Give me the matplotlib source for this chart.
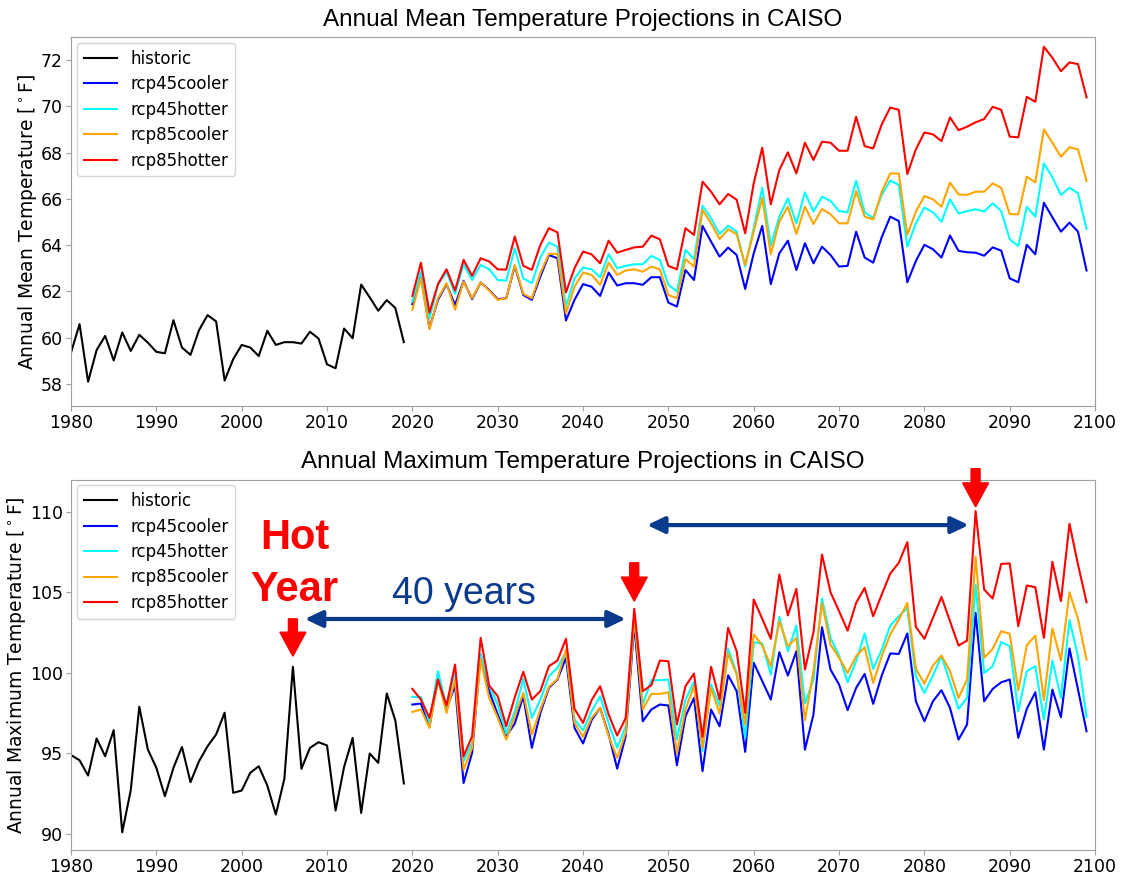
import matplotlib
matplotlib.use("Agg")
import matplotlib.pyplot as plt
import numpy as np

# ---------------- data ----------------
hist_years = list(range(1980, 2020))
proj_years = list(range(2020, 2100))

mean_historic = [59.35, 60.58, 58.09, 59.46, 60.07, 59.01, 60.22, 59.42, 60.12, 59.78,
                 59.38, 59.32, 60.75, 59.57, 59.25, 60.32, 60.97, 60.70, 58.14, 59.06,
                 59.68, 59.57, 59.20, 60.29, 59.68, 59.80, 59.80, 59.74, 60.25, 59.96,
                 58.84, 58.67, 60.39, 59.97, 62.29, 61.74, 61.16, 61.62, 61.28, 59.80]

mean_rcp45cooler = [61.44, 62.71, 60.40, 61.63, 62.31, 61.41, 62.45, 61.66, 62.38, 62.06,
                    61.66, 61.70, 63.10, 61.84, 61.63, 62.64, 63.57, 63.43, 60.74, 61.63,
                    62.31, 62.20, 61.80, 62.81, 62.25, 62.35, 62.35, 62.28, 62.61, 62.61,
                    61.51, 61.34, 62.92, 62.49, 64.83, 64.15,
                    63.50, 63.89, 63.57, 62.10, 63.64, 64.83, 62.31, 63.64, 64.19, 62.92,
                    64.08, 63.21, 63.93, 63.57, 63.07, 63.10, 64.58, 63.46, 63.24, 64.34,
                    65.23, 65.04, 62.39, 63.31, 64.01, 63.82, 63.46, 64.41, 63.75, 63.69,
                    63.67, 63.54, 63.90, 63.76, 62.56, 62.39, 64.01, 63.60, 65.83, 65.20,
                    64.58, 64.97, 64.58, 62.90]

mean_rcp45hotter = [61.56, 62.85, 60.84, 62.28, 62.85, 61.89, 63.17, 62.49, 63.14, 62.95,
                    62.49, 62.46, 63.86, 62.56, 62.35, 63.47, 64.11, 63.93, 61.34, 62.56,
                    63.03, 62.95, 62.61, 63.60, 63.00, 63.10, 63.17, 63.17, 63.53, 63.36,
                    62.28, 61.99, 63.79, 63.39, 65.70, 65.16,
                    64.48, 64.84, 64.58, 63.07, 64.73, 66.48, 63.98, 65.23, 66.02, 64.94,
                    66.28, 65.45, 66.09, 65.91, 65.47, 65.42, 66.79, 65.42, 65.16, 66.17,
                    66.79, 66.60, 63.93, 64.94, 65.62, 65.42, 65.01, 65.98, 65.37, 65.47,
                    65.55, 65.45, 65.81, 65.47, 64.25, 63.96, 65.66, 65.23, 67.53, 66.93,
                    66.17, 66.48, 66.24, 64.70]

mean_rcp85cooler = [61.20, 62.56, 60.36, 61.70, 62.35, 61.20, 62.42, 61.70, 62.38, 62.03,
                    61.63, 61.70, 63.14, 61.89, 61.70, 62.78, 63.62, 63.62, 61.05, 62.20,
                    62.81, 62.71, 62.28, 63.24, 62.71, 62.90, 62.95, 62.85, 63.07, 62.95,
                    61.84, 61.70, 63.39, 63.07, 65.52, 64.94,
                    64.26, 64.68, 64.47, 63.14, 64.58, 66.05, 63.60, 65.01, 65.66, 64.48,
                    65.66, 64.91, 65.56, 65.33, 64.94, 64.94, 66.34, 65.23, 65.11, 66.31,
                    67.10, 67.09, 64.44, 65.45, 66.12, 65.98, 65.66, 66.70, 66.19, 66.17,
                    66.31, 66.31, 66.67, 66.48, 65.34, 65.33, 66.96, 66.71, 69.00, 68.43,
                    67.82, 68.23, 68.14, 66.77]

mean_rcp85hotter = [61.80, 63.24, 61.08, 62.31, 62.95, 62.03, 63.36, 62.67, 63.43, 63.29,
                    62.95, 62.94, 64.37, 63.10, 62.93, 64.01, 64.73, 64.55, 61.95, 63.00,
                    63.72, 63.60, 63.21, 64.19, 63.67, 63.79, 63.90, 63.93, 64.41, 64.25,
                    63.10, 62.95, 64.73, 64.44, 66.74, 66.31,
                    65.76, 66.21, 65.96, 64.51, 66.67, 68.21, 65.76, 67.25, 68.01, 67.10,
                    68.43, 67.68, 68.47, 68.43, 68.08, 68.08, 69.55, 68.28, 68.18, 69.22,
                    69.95, 69.85, 67.07, 68.14, 68.87, 68.79, 68.50, 69.52, 68.97, 69.12,
                    69.31, 69.45, 69.98, 69.85, 68.69, 68.66, 70.41, 70.20, 72.58, 72.10,
                    71.52, 71.90, 71.83, 70.39]

max_historic = [94.89, 94.57, 93.62, 95.92, 94.82, 96.44, 90.10, 92.71, 97.89, 95.24,
                94.10, 92.34, 94.10, 95.40, 93.21, 94.51, 95.44, 96.17, 97.52, 92.55,
                92.69, 93.79, 94.20, 93.00, 91.20, 93.42, 100.37, 94.04, 95.34, 95.69,
                95.49, 91.45, 94.16, 95.96, 91.30, 94.99, 94.41, 98.72, 97.04, 93.13]

max_rcp45cooler = [98.03, 98.09, 96.64, 99.62, 97.76, 99.21, 93.16, 95.03, 101.13, 98.86,
                   97.41, 96.06, 96.85, 98.55, 95.34, 97.51, 99.06, 99.58, 100.93, 96.58,
                   95.61, 97.06, 97.82, 96.17, 94.05, 96.06, 103.00, 96.99, 97.72, 98.03,
                   97.97, 94.26, 97.30, 98.44, 93.89, 97.72, 96.68,
                   99.85, 98.86, 95.09, 100.62, 99.48, 98.34, 101.28, 99.83, 101.34, 95.23,
                   97.41, 102.83, 100.20, 99.27, 97.68, 99.06, 99.93, 98.07, 99.83, 101.20,
                   101.17, 102.44, 98.23, 96.99, 98.23, 98.92, 97.82, 95.85, 96.79, 103.72,
                   98.23, 99.00, 99.41, 99.58, 95.96, 97.76, 98.79, 95.23, 98.96, 97.24,
                   101.51, 98.96, 96.37]

max_rcp45hotter = [98.50, 98.50, 96.89, 100.10, 97.88, 100.16, 94.51, 95.65, 101.13, 99.21,
                   98.03, 96.23, 97.61, 99.62, 97.20, 98.34, 99.79, 100.31, 101.28, 97.10,
                   96.43, 97.61, 98.55, 96.89, 95.34, 96.68, 103.41, 98.03, 99.54, 99.54,
                   99.58, 95.85, 98.34, 99.42, 95.13, 99.27, 97.97,
                   101.48, 99.99, 95.96, 101.90, 101.82, 99.89, 103.47, 101.34, 102.93, 98.09,
                   99.58, 104.61, 102.17, 101.07, 99.41, 100.72, 102.44, 100.24, 101.44, 102.93,
                   103.51, 104.03, 99.79, 98.75, 99.83, 101.03, 99.41, 97.76, 98.44, 105.48,
                   99.99, 100.41, 101.90, 101.65, 97.61, 100.10, 100.41, 97.10, 100.76, 98.44,
                   103.27, 101.03, 97.26]

max_rcp85cooler = [97.57, 97.72, 96.58, 99.58, 97.51, 99.58, 93.99, 95.34, 100.82, 98.44,
                   97.20, 95.85, 97.30, 98.75, 96.17, 97.72, 99.13, 99.62, 101.44, 96.89,
                   96.02, 97.20, 97.82, 96.06, 94.72, 96.27, 103.52, 97.72, 98.69, 98.69,
                   98.79, 94.99, 97.72, 99.17, 95.34, 99.06, 97.47,
                   101.20, 99.89, 96.79, 102.38, 101.69, 100.41, 103.20, 101.65, 102.17, 97.05,
                   100.10, 104.34, 101.75, 100.93, 99.99, 101.03, 101.59, 99.37, 101.03, 102.38,
                   103.31, 104.34, 100.24, 99.33, 100.45, 101.07, 100.10, 98.44, 99.58, 107.20,
                   100.93, 101.48, 102.58, 102.42, 98.92, 101.71, 102.31, 98.30, 102.75, 100.76,
                   105.00, 103.35, 100.82]

max_rcp85hotter = [99.00, 98.34, 97.20, 99.58, 97.97, 100.51, 94.82, 96.06, 102.17, 99.21,
                   98.55, 96.68, 98.48, 100.06, 98.34, 98.86, 100.41, 100.76, 102.11, 97.76,
                   96.89, 98.30, 99.17, 97.41, 96.10, 97.20, 103.97, 98.86, 99.23, 100.76,
                   100.72, 96.79, 99.17, 99.95, 96.02, 100.37, 98.34,
                   102.79, 101.34, 97.51, 104.55, 103.35, 102.11, 106.10, 103.56, 105.21, 100.20,
                   102.52, 107.34, 105.00, 103.82, 102.62, 104.34, 105.27, 103.51, 104.86, 106.16,
                   106.83, 108.11, 102.85, 102.11, 103.41, 104.71, 103.20, 101.69, 102.00, 110.04,
                   105.17, 104.61, 106.76, 106.79, 102.89, 105.42, 105.31, 102.17, 106.89, 104.45,
                   109.25, 106.72, 104.38]

series_names = ["rcp45cooler", "rcp45hotter", "rcp85cooler", "rcp85hotter"]
series_colors = ["blue", "cyan", "orange", "red"]

mean_proj = [mean_rcp45cooler, mean_rcp45hotter, mean_rcp85cooler, mean_rcp85hotter]
max_proj = [max_rcp45cooler, max_rcp45hotter, max_rcp85cooler, max_rcp85hotter]

hot_years = [2006, 2046, 2086]
gap_label = "40 years"

# ---------------- figure ----------------
fig = plt.figure(figsize=(11.22, 8.75), dpi=100)
ax1 = fig.add_axes([0.0633, 0.5363, 0.9127, 0.4214])
ax2 = fig.add_axes([0.0633, 0.0286, 0.9127, 0.4234])

title_font = dict(family="Liberation Sans", size=17.5)
spine_col = "#a0a0a0"
navy = "#0a3a8c"


def style(ax, hist, proj, ylim, yticks, ylabel, title):
    ax.plot(hist_years, hist, color="black", lw=1.5, label="historic")
    for vals, name, col in zip(proj, series_names, series_colors):
        ax.plot(proj_years, vals, color=col, lw=1.5, label=name)
    ax.set_xlim(1980, 2100)
    ax.set_ylim(*ylim)
    ax.set_xticks(range(1980, 2101, 10))
    ax.set_yticks(yticks)
    ax.tick_params(labelsize=12.5, color=spine_col, length=3.5, pad=2.5)
    for s in ax.spines.values():
        s.set_color(spine_col)
    ax.set_ylabel(ylabel, fontsize=13.5, labelpad=1)
    ax.set_title(title, fontdict=title_font, pad=8)
    leg = ax.legend(loc="upper left", fontsize=12, borderaxespad=0.35,
                    handlelength=2.0, labelspacing=0.45)
    leg.set_zorder(5)


style(ax1, mean_historic, mean_proj, (57.05, 73.0), range(58, 73, 2),
      "Annual Mean Temperature [$^\\circ$F]",
      "Annual Mean Temperature Projections in CAISO")
style(ax2, max_historic, max_proj, (89.0, 112.0), range(90, 111, 5),
      "Annual Maximum Temperature [$^\\circ$F]",
      "Annual Maximum Temperature Projections in CAISO")

# ---------------- annotations on max chart ----------------
arrow_tails = [103.35, 106.83, 112.67]
arrow_tips = [101.03, 104.45, 110.30]
for yr, yt, yp in zip(hot_years, arrow_tails, arrow_tips):
    ax2.arrow(yr, yt, 0, yp - yt, width=1.05, head_width=3.05, head_length=1.49,
              length_includes_head=True, color="red", clip_on=False, zorder=6)

span_starts = [2007.4, 2047.5]
span_ends = [2045.0, 2085.2]
span_levels = [103.34, 109.17]
for x0, x1, yv in zip(span_starts, span_ends, span_levels):
    ax2.annotate("", xy=(x1, yv), xytext=(x0, yv),
                 arrowprops=dict(arrowstyle="<|-|>,head_length=1.05,head_width=0.5",
                                 color=navy, lw=3, shrinkA=0, shrinkB=0,
                                 mutation_scale=10),
                 annotation_clip=False, zorder=6)

ax2.text(2006.2, 107.66, "Hot", ha="center", va="baseline", color="red",
         fontsize=30, fontweight="bold", family="Liberation Sans", zorder=7)
ax2.text(2006.2, 104.45, "Year", ha="center", va="baseline", color="red",
         fontsize=30, fontweight="bold", family="Liberation Sans", zorder=7)
ax2.text(2026.05, 104.24, gap_label, ha="center", va="baseline", color=navy,
         fontsize=27, family="Liberation Sans", zorder=7)

fig.savefig("out.png", dpi=100)
